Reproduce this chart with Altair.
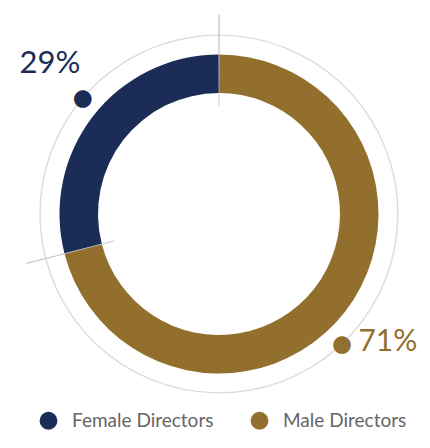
import altair as alt
import pandas as pd

categories = ["Female Directors", "Male Directors"]
values = [29, 71]
stack_rank = [1, 0]
colors = ["#1b2d56", "#926f2d"]

df = pd.DataFrame({"category": categories, "value": values, "rank": stack_rank})

color_scale = alt.Scale(domain=categories, range=colors)
theta_scale = alt.Scale(domain=[0, 100])
theta = alt.Theta("value:Q", stack=True, scale=theta_scale)
order = alt.Order("rank:Q")

base = alt.Chart(df)
cum = base.transform_window(
    end="sum(value)", sort=[alt.SortField("rank")], frame=[None, 0]
).transform_calculate(
    start="datum.end - datum.value",
    mid="datum.end - datum.value / 2",
    label="datum.value + '%'",
)

ring = base.mark_arc(radius=179.6, radius2=178.2, color="#dcdcdc").encode(
    theta=theta, order=order
)

donut = base.mark_arc(radius=159.5, radius2=121).encode(
    theta=theta,
    order=order,
    color=alt.Color(
        "category:N",
        scale=color_scale,
        legend=alt.Legend(
            title=None,
            orient="none",
            legendX=20,
            legendY=403,
            direction="horizontal",
            symbolType="circle",
            symbolSize=320,
            symbolStrokeWidth=0,
            labelFont="Lato",
            labelFontSize=19,
            labelColor="#666666",
            labelOffset=14,
            columnPadding=36,
        ),
    ),
)

seps = (
    cum.transform_calculate(a="datum.start - 0.05", b="datum.start + 0.05")
    .mark_arc(radius=199, radius2=108, color="#bdbdbd")
    .encode(theta=alt.Theta("a:Q", scale=theta_scale), theta2="b:Q")
)

def per_cat(cat, dot_off, lab_off, lab_r, lab_size):
    sub = cum.transform_filter(alt.datum.category == cat)
    col = alt.Color("category:N", scale=color_scale, legend=None)
    d = sub.mark_text(
        text="●", radius=179, fontSize=23, font="DejaVu Sans",
        align="center", baseline="middle", thetaOffset=dot_off
    ).encode(theta=alt.Theta("mid:Q", scale=theta_scale), color=col)
    t = sub.mark_text(
        radius=lab_r, font="Lato", fontSize=lab_size, align="center",
        baseline="middle", thetaOffset=lab_off
    ).encode(theta=alt.Theta("mid:Q", scale=theta_scale), text="label:N", color=col)
    return [d, t]

chart = (
    alt.layer(
        ring, donut, seps,
        *per_cat(categories[0], 0.047, 0.066, 226, 31),
        *per_cat(categories[1], 0.154, -0.01, 212, 30),
    )
    .properties(
        width=400,
        height=412,
        autosize=alt.AutoSizeParams(type="none"),
        padding={"left": 11, "top": 0, "right": 3, "bottom": 12},
    )
    .configure_view(stroke=None)
)

chart.save("out.html", embed_options={"renderer": "svg", "actions": False})
